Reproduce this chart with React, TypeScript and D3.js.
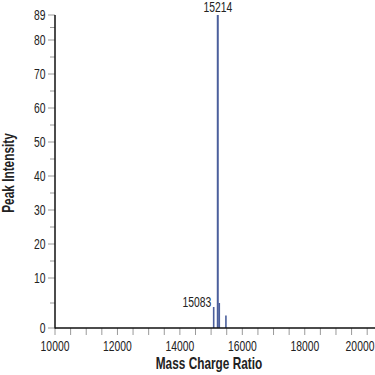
import React from "react";
import * as d3 from "d3";

const peakMasses = [15083, 15214, 15262, 15475];
const peakIntensities = [4.2, 89, 5.0, 2.5];
const labeledPeaks = [15214, 15083];

const yMajorTicks = [0, 10, 20, 30, 40, 50, 60, 70, 80, 89];
const yMinorTicks = [5, 15, 25, 35, 45, 55, 65, 75, 84.5];
const xMajorTicks = [10000, 12000, 14000, 16000, 18000, 20000];
const xAllTicks = d3.range(10000, 20001, 500);

const FONT = "'Liberation Sans', Arial, sans-serif";
const SX = 0.74;

function T({ x, y, anchor = "start", size = 14, bold = false, rotate = 0, dy, children }: any) {
  return (
    <text
      transform={`translate(${x},${y}) rotate(${rotate}) scale(${SX},1)`}
      textAnchor={anchor}
      dy={dy}
      fontSize={size}
      fontWeight={bold ? "bold" : "normal"}
      fill="#222"
    >
      {children}
    </text>
  );
}

export default function App() {
  const W = 375, H = 375;
  const x = d3.scaleLinear().domain([10000, 20250]).range([55, 375]);
  const y = d3.scaleLinear().domain([0, 10, 80, 89]).range([328, 278, 40, 15]);
  const color = "#4b5f9c";
  const tickColor = "#9a9a9a";

  return (
    <svg width={W} height={H} style={{ position: "absolute", left: 0, top: 0 }} fontFamily={FONT}>
      <rect width={W} height={H} fill="#fff" />
      {yMajorTicks.map((v) => (
        <g key={"ym" + v}>
          <line x1={48} x2={55} y1={y(v)} y2={y(v)} stroke={tickColor} strokeWidth={1} />
          <T x={45.5} y={y(v)} dy="0.36em" anchor="end">{v}</T>
        </g>
      ))}
      {yMinorTicks.map((v) => (
        <line key={"yn" + v} x1={50} x2={55} y1={y(v)} y2={y(v)} stroke={tickColor} strokeWidth={1} />
      ))}
      {xAllTicks.map((v) => (
        <line key={"xt" + v} x1={x(v)} x2={x(v)} y1={328} y2={335} stroke={tickColor} strokeWidth={1} />
      ))}
      {xMajorTicks.map((v, i) => (
        <T key={"xl" + v} x={i === xMajorTicks.length - 1 ? Math.min(x(v), 374 - 14) : x(v)} y={350.5} anchor="middle">{v}</T>
      ))}
      {peakMasses.map((m, i) => (
        <line key={"p" + m} x1={x(m)} x2={x(m)} y1={y(0)} y2={y(peakIntensities[i])} stroke={color} strokeWidth={i === 1 ? 2 : 1.6} />
      ))}
      <T x={x(labeledPeaks[0])} y={12.3} anchor="middle">{labeledPeaks[0]}</T>
      <T x={x(labeledPeaks[1]) - 2.5} y={307.3} anchor="end">{labeledPeaks[1]}</T>
      <line x1={55} x2={55} y1={y(89)} y2={328.5} stroke="#111" strokeWidth={1.5} />
      <line x1={55} x2={375} y1={328} y2={328} stroke="#111" strokeWidth={1.5} />
      <T x={209} y={369} anchor="middle" size={16} bold>Mass Charge Ratio</T>
      <T x={14} y={173} anchor="middle" size={16} bold rotate={-90}>Peak Intensity</T>
    </svg>
  );
}
